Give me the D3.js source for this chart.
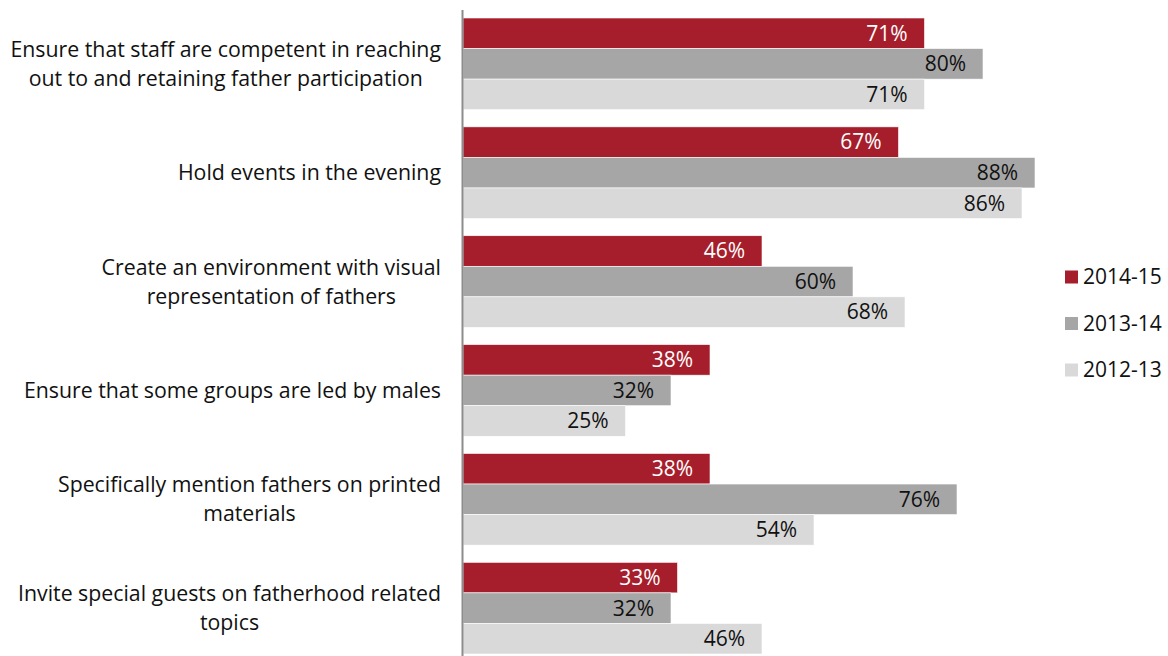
<!DOCTYPE html>
<html>
<head>
<meta charset="utf-8">
<script src="https://cdn.jsdelivr.net/npm/d3@7"></script>
<style>
  html, body { margin: 0; padding: 0; background: #fff; }
  svg text { font-family: "Open Sans", "Noto Sans", sans-serif; }
</style>
</head>
<body>
<svg id="chart" width="1168" height="656"></svg>
<script>
// Survey strategies for engaging fathers, share of programs by year
const categories = [
  ["Ensure that staff are competent in reaching", "out to and retaining father participation"],
  ["Hold events in the evening"],
  ["Create an environment with visual", "representation of fathers"],
  ["Ensure that some groups are led by males"],
  ["Specifically mention fathers on printed", "materials"],
  ["Invite special guests on fatherhood related", "topics"]
];
const seriesNames = ["2014-15", "2013-14", "2012-13"];
const values2014 = [71, 67, 46, 38, 38, 33];
const values2013 = [80, 88, 60, 32, 76, 32];
const values2012 = [71, 86, 68, 25, 54, 46];
const seriesColors = ["#A61E2B", "#A6A6A6", "#D9D9D9"];
const labelColors = ["#ffffff", "#111111", "#111111"];

const allSeries = [values2014, values2013, values2012];

const svg = d3.select("#chart");
const axisX = 463;
const fontSize = 21;
const catFontSize = 21.3;
const labelRight = 441;

const x = d3.scaleLinear().domain([0, 100]).range([axisX, axisX + 650]);
const y = d3.scaleBand()
  .domain(d3.range(categories.length))
  .range([18, 654])
  .paddingInner(0.158)
  .paddingOuter(0);
const ySub = d3.scaleBand()
  .domain(d3.range(seriesNames.length))
  .range([0, y.bandwidth()]);

const groups = svg.selectAll("g.group")
  .data(categories.map((c, i) => i))
  .join("g")
  .attr("class", "group")
  .attr("transform", i => `translate(0,${y(i)})`);

groups.each(function(i) {
  const g = d3.select(this);
  allSeries.forEach((vals, s) => {
    const v = vals[i];
    g.append("rect")
      .attr("x", x(0))
      .attr("y", ySub(s))
      .attr("width", x(v) - x(0))
      .attr("height", ySub.bandwidth())
      .attr("fill", seriesColors[s])
      .attr("stroke", "#fff")
      .attr("stroke-width", 0.6);
    g.append("text")
      .attr("x", x(v) - 17)
      .attr("y", ySub(s) + ySub.bandwidth() / 2)
      .attr("dy", "0.35em")
      .attr("text-anchor", "end")
      .attr("font-size", fontSize)
      .attr("fill", labelColors[s])
      .text(v + "%");
  });

  // category label: lines centred on each other, block right-aligned to the axis
  const lines = categories[i];
  const lh = 29;
  const mid = y.bandwidth() / 2;
  const t = g.append("text")
    .attr("text-anchor", "middle")
    .attr("font-size", catFontSize)
    .attr("fill", "#111");
  const spans = lines.map((ln, k) =>
    t.append("tspan")
      .attr("y", mid + (k - (lines.length - 1) / 2) * lh)
      .attr("dy", "0.35em")
      .text(ln));
  const maxW = d3.max(spans, sp => sp.node().getComputedTextLength());
  spans.forEach(sp => sp.attr("x", labelRight - maxW / 2));
});

// vertical category axis line
svg.append("line")
  .attr("x1", axisX - 0.5).attr("x2", axisX - 0.5)
  .attr("y1", 10).attr("y2", 656)
  .attr("stroke", "#8c8c8c")
  .attr("stroke-width", 2);

// legend
const legend = svg.append("g").attr("transform", "translate(1065,0)");
const legendY = d3.scalePoint().domain(seriesNames).range([277, 370]);
seriesNames.forEach((name, s) => {
  legend.append("rect")
    .attr("x", 0)
    .attr("y", legendY(name) - 6.5)
    .attr("width", 13)
    .attr("height", 13)
    .attr("fill", seriesColors[s]);
  legend.append("text")
    .attr("x", 18)
    .attr("y", legendY(name))
    .attr("dy", "0.35em")
    .attr("font-size", fontSize)
    .attr("fill", "#111")
    .text(name);
});
</script>
</body>
</html>
